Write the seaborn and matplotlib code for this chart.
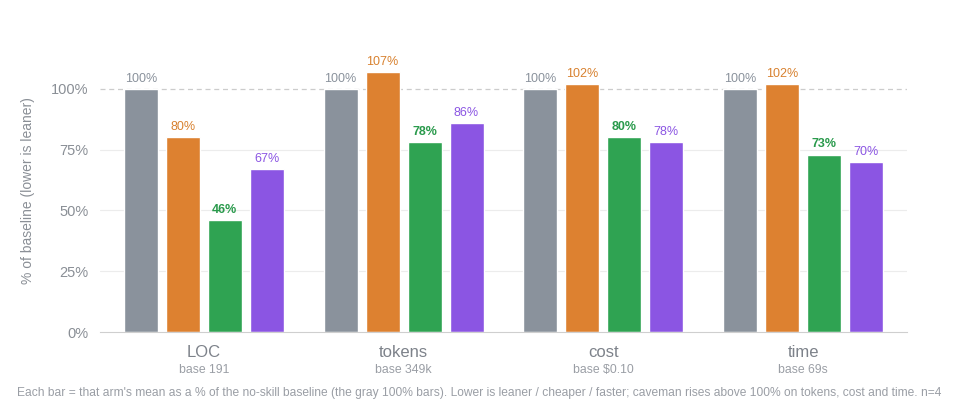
import pandas as pd
import seaborn as sns
import matplotlib.pyplot as plt

# metric groups and their baselines
metrics = ["LOC", "tokens", "cost", "time"]
bases = ["base 191", "base 349k", "base $0.10", "base 69s"]
arms = ["baseline", "caveman", "arm3", "arm4"]

# % of the no-skill baseline
baseline = [100, 100, 100, 100]
caveman = [80, 107, 102, 102]
arm3 = [46, 78, 80, 73]
arm4 = [67, 86, 78, 70]

colors = ["#8a929c", "#dd8130", "#2fa352", "#8b55e3"]
label_colors = ["#8a929c", "#d8812f", "#2a9a4c", "#8b55e3"]
label_weights = ["normal", "normal", "bold", "normal"]

rows = []
for arm, vals in zip(arms, [baseline, caveman, arm3, arm4]):
    for m, v in zip(metrics, vals):
        rows.append({"metric": m, "arm": arm, "pct": v})
df = pd.DataFrame(rows)

sns.set_style("white")
plt.rcParams["font.family"] = ["Liberation Sans", "DejaVu Sans"]

fig = plt.figure(figsize=(9.6, 4.09), dpi=100)
ax = fig.add_axes([0.104, 0.188, 0.841, 0.69])

sns.barplot(data=df, x="metric", y="pct", hue="arm", palette=colors,
            width=0.84, gap=0.19, legend=False, ax=ax, saturation=1)

ax.set_ylim(0, 116)
ax.set_xlim(-0.52, 3.52)
ax.set_yticks([0, 25, 50, 75, 100])
ax.set_yticklabels(["0%", "25%", "50%", "75%", "100%"], color="#8a8f96", fontsize=10.5)
ax.tick_params(axis="y", length=0, pad=8)
ax.tick_params(axis="x", length=0)
for y in [25, 50, 75]:
    ax.axhline(y, color="#ececec", lw=0.8, zorder=0)
ax.axhline(100, color="#cccccc", lw=0.9, ls=(0, (4, 3)), zorder=0)

for s in ["top", "right", "left"]:
    ax.spines[s].set_visible(False)
ax.spines["bottom"].set_color("#cfcfcf")

# value labels
for i, cont in enumerate(ax.containers):
    ax.bar_label(cont, labels=[f"{int(b.get_height())}%" for b in cont],
                 padding=3, color=label_colors[i], fontsize=9,
                 fontweight=label_weights[i])

ax.set_xticks(range(len(metrics)))
ax.set_xticklabels([])
for i, (m, b) in enumerate(zip(metrics, bases)):
    ax.text(i, -5.5, m, ha="center", va="top", fontsize=12, color="#7d828a")
    ax.text(i, -13.3, b, ha="center", va="top", fontsize=8.8, color="#9a9ea5")

ax.set_xlabel("")
ax.set_ylabel("% of baseline (lower is leaner)", color="#8a8f96", fontsize=10, labelpad=12)

fig.text(0.018, 0.04,
         "Each bar = that arm's mean as a % of the no-skill baseline (the gray 100% bars). "
         "Lower is leaner / cheaper / faster; caveman rises above 100% on tokens, cost and time. n=4",
         fontsize=8.65, color="#9a9ea5", ha="left", va="center")

fig.savefig("out.png", dpi=100)
